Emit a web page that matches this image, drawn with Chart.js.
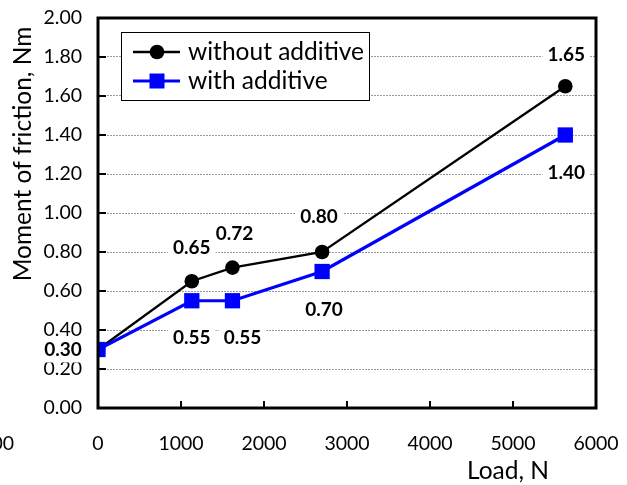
<!DOCTYPE html>
<html>
<head>
<meta charset="utf-8">
<script src="https://cdn.jsdelivr.net/npm/chart.js@4.4.1/dist/chart.umd.min.js"></script>
<style>
    body { margin: 0; background: #fff; }
    #wrap { width: 627px; height: 485px; }
</style>
</head>
<body>
<div id="wrap"><canvas id="frictionChart" width="627" height="485"></canvas></div>
<script>
// Load values (N) and measured moment of friction (Nm)
const loads = [0, 1130, 1620, 2700, 5630];
const withoutAdditive = [0.30, 0.65, 0.72, 0.80, 1.65];
const withAdditive = [0.30, 0.55, 0.55, 0.70, 1.40];
const seriesNames = ['without additive', 'with additive'];
const xTickValues = [0, 1000, 2000, 3000, 4000, 5000, 6000];

// where each data label sits relative to its point (px), null = no label
const blackLabelShift = [[-35, 0], [0, -33], [2, -34], [-3, -35], [1, -31]];
const blueLabelShift = [null, [0, 37], [10, 37], [2, 38], [1, 38]];

const FONT = 'Lato, "Open Sans", sans-serif';

const toPoints = (xs, ys) => xs.map((x, i) => ({ x: x, y: ys[i] }));

const decorations = {
    id: 'decorations',
    beforeDatasetsDraw(chart) {
        // white boxes behind data labels hide the gridlines
        const ctx = chart.ctx;
        ctx.save();
        ctx.font = 'bold 19px ' + FONT;
        chart.data.datasets.forEach(ds => {
            ds.labelShift.forEach((s, i) => {
                if (!s) return;
                const p = ds.data[i];
                const px = chart.scales.x.getPixelForValue(p.x) + s[0];
                const py = chart.scales.y.getPixelForValue(p.y) + s[1];
                const w = ctx.measureText(p.y.toFixed(2)).width + 10;
                ctx.fillStyle = '#fff';
                ctx.fillRect(px - w / 2, py - 13, w, 26);
            });
        });
        ctx.restore();
    },
    afterDatasetsDraw(chart) {
        const ctx = chart.ctx;
        const area = chart.chartArea;
        const xs = chart.scales.x, ys = chart.scales.y;
        ctx.save();

        // inward tick marks
        ctx.strokeStyle = '#000';
        ctx.lineWidth = 2;
        ys.ticks.forEach(t => {
            const y = ys.getPixelForValue(t.value);
            ctx.beginPath();
            ctx.moveTo(area.left, y);
            ctx.lineTo(area.left + 8, y);
            ctx.stroke();
        });
        xTickValues.forEach(v => {
            const x = xs.getPixelForValue(v);
            ctx.beginPath();
            ctx.moveTo(x, area.bottom);
            ctx.lineTo(x, area.bottom - 7);
            ctx.stroke();
        });

        // plot frame
        ctx.lineWidth = 3;
        ctx.strokeRect(area.left, area.top, area.right - area.left, area.bottom - area.top);

        // data labels
        ctx.font = 'bold 19px ' + FONT;
        ctx.fillStyle = '#000';
        ctx.textAlign = 'center';
        ctx.textBaseline = 'middle';
        chart.data.datasets.forEach(ds => {
            ds.labelShift.forEach((s, i) => {
                if (!s) return;
                const p = ds.data[i];
                ctx.fillText(p.y.toFixed(2),
                    xs.getPixelForValue(p.x) + s[0],
                    ys.getPixelForValue(p.y) + s[1]);
            });
        });

        // cut-off label left of zero
        ctx.font = '19.5px ' + FONT;
        ctx.textAlign = 'right';
        ctx.fillText('-1000', xs.getPixelForValue(-1000) - 1, 444);

        // axis titles
        ctx.font = '24.5px ' + FONT;
        ctx.textAlign = 'center';
        ctx.fillText('Load, N', 508, 471);
        ctx.translate(23, 154);
        ctx.rotate(-Math.PI / 2);
        ctx.fillText('Moment of friction, Nm', 0, 0);
        ctx.restore();

        // legend
        ctx.save();
        ctx.fillStyle = '#fff';
        ctx.fillRect(121.5, 32.5, 248, 68);
        ctx.strokeStyle = '#000';
        ctx.lineWidth = 1;
        ctx.strokeRect(121.5, 32.5, 248, 68);
        const rows = [52, 81];
        chart.data.datasets.forEach((ds, i) => {
            const y = rows[i];
            ctx.strokeStyle = ds.borderColor;
            ctx.fillStyle = ds.borderColor;
            ctx.lineWidth = ds.borderWidth;
            ctx.beginPath();
            ctx.moveTo(133, y);
            ctx.lineTo(180, y);
            ctx.stroke();
            if (ds.pointStyle === 'rect') {
                ctx.fillRect(149.5, y - 7.5, 15, 15);
            } else {
                ctx.beginPath();
                ctx.arc(157, y, 7.3, 0, Math.PI * 2);
                ctx.fill();
            }
            ctx.fillStyle = '#000';
            ctx.font = '24.5px ' + FONT;
            ctx.textAlign = 'left';
            ctx.textBaseline = 'middle';
            ctx.fillText(ds.label, 188, y);
        });
        ctx.restore();
    }
};

const ctx = document.getElementById('frictionChart').getContext('2d');
new Chart(ctx, {
    type: 'scatter',
    data: {
        datasets: [
            {
                label: seriesNames[0],
                data: toPoints(loads, withoutAdditive),
                showLine: true,
                borderColor: '#000000',
                backgroundColor: '#000000',
                borderWidth: 2.3,
                pointStyle: 'circle',
                pointRadius: 7.3,
                pointBorderWidth: 0,
                labelShift: blackLabelShift,
                order: 1
            },
            {
                label: seriesNames[1],
                data: toPoints(loads, withAdditive),
                showLine: true,
                borderColor: '#0000FF',
                backgroundColor: '#0000FF',
                borderWidth: 3.2,
                pointStyle: 'rect',
                pointRadius: 10.8,
                pointBorderWidth: 0,
                labelShift: blueLabelShift,
                order: 0
            }
        ]
    },
    options: {
        responsive: false,
        animation: false,
        layout: { padding: { top: 18, right: 31, left: 0, bottom: 0 } },
        plugins: {
            legend: { display: false },
            tooltip: { enabled: false }
        },
        scales: {
            x: {
                type: 'linear',
                min: 0,
                max: 6000,
                afterFit: scale => {
                    scale.height = 77;
                    scale.paddingLeft = 0;
                    scale.paddingRight = 0;
                },
                afterBuildTicks: scale => {
                    scale.ticks = xTickValues.map(v => ({ value: v }));
                },
                grid: { display: false, drawTicks: false },
                border: { display: false },
                ticks: {
                    color: '#000',
                    font: { family: FONT, size: 19.5 },
                    padding: 24,
                    maxRotation: 0,
                    callback: v => String(v)
                }
            },
            y: {
                min: 0,
                max: 2,
                afterFit: scale => {
                    scale.width = 98;
                    scale.paddingTop = 0;
                    scale.paddingBottom = 0;
                },
                grid: {
                    color: '#9a9a9a',
                    lineWidth: 1,
                    drawTicks: false
                },
                border: { display: false, dash: [2, 1] },
                ticks: {
                    stepSize: 0.2,
                    color: '#000',
                    font: { family: FONT, size: 19.5 },
                    padding: 16,
                    callback: v => v.toFixed(2)
                }
            }
        }
    },
    plugins: [decorations]
});
</script>
</body>
</html>
